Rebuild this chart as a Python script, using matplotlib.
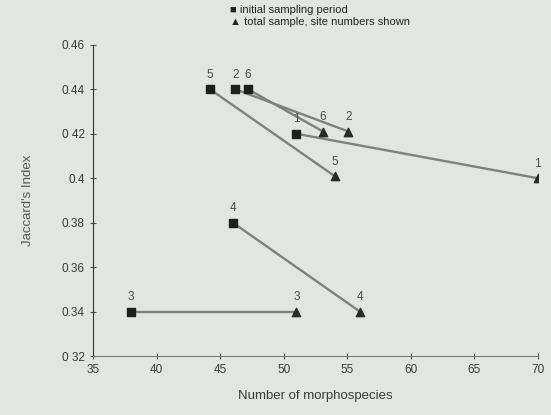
import numpy as np
import matplotlib
matplotlib.use("Agg")
import matplotlib.pyplot as plt

plt.rcParams['font.family'] = ['Liberation Sans', 'DejaVu Sans']

# site numbers, initial sampling period vs total sample
sites = ['1', '2', '3', '4', '5', '6']
initial_x = [51, 46.2, 38, 46, 44.2, 47.2]
initial_y = [0.42, 0.44, 0.34, 0.38, 0.44, 0.44]
total_x = [70, 55.1, 51, 56, 54, 53.1]
total_y = [0.40, 0.421, 0.34, 0.34, 0.401, 0.421]

x_ticks = [35, 40, 45, 50, 55, 60, 65, 70]
y_ticks = [0.32, 0.34, 0.36, 0.38, 0.40, 0.42, 0.44, 0.46]
y_labels = ['0 32', '0.34', '0.36', '0.38', '0.4', '0 42', '0.44', '0.46']

bg = '#e3e5e3'
txt = '#3a3a3a'

fig = plt.figure(figsize=(5.51, 4.15), dpi=100, facecolor=bg)
ax = fig.add_axes([0.169, 0.142, 0.807, 0.750], facecolor=bg)

for i in range(len(sites)):
    ax.plot([initial_x[i], total_x[i]], [initial_y[i], total_y[i]],
            color='#7f807f', linewidth=1.7, zorder=2)

ax.scatter(initial_x, initial_y, marker='s', s=36, color='#1e1e1e', zorder=3)
ax.scatter(total_x, total_y, marker='^', s=36, color='#2a2a2a', zorder=3)

for i in range(len(sites)):
    ax.annotate(sites[i], (initial_x[i], initial_y[i]), xytext=(0, 6),
                textcoords='offset points', ha='center', va='bottom',
                fontsize=8.5, color='#4a4a4a')
    ax.annotate(sites[i], (total_x[i], total_y[i]), xytext=(0, 6),
                textcoords='offset points', ha='center', va='bottom',
                fontsize=8.5, color='#4a4a4a')

ax.set_xlim(35, 70)
ax.set_ylim(0.32, 0.46)
ax.set_xticks(x_ticks)
ax.set_yticks(y_ticks)
ax.set_yticklabels(y_labels)
ax.tick_params(direction='inout', length=5, width=0.8, colors='#555555',
               labelcolor=txt, labelsize=8.5)

for side in ['top', 'right']:
    ax.spines[side].set_visible(False)
ax.spines['left'].set_color('#333333')
ax.spines['bottom'].set_color('#777777')

ax.set_xlabel('Number of morphospecies', fontsize=9.5, color=txt, labelpad=10)
ax.set_ylabel("Jaccard's Index", fontsize=9.5, color='#555555', labelpad=20)

fig.text(0.418, 0.975, u'\u25a0 initial sampling period', fontsize=8,
         color='#222222', va='center', ha='left')
fig.text(0.418, 0.948, u'\u25b2 total sample, site numbers shown', fontsize=8,
         color='#222222', va='center', ha='left')

fig.savefig('out.png', dpi=100, facecolor=bg)
